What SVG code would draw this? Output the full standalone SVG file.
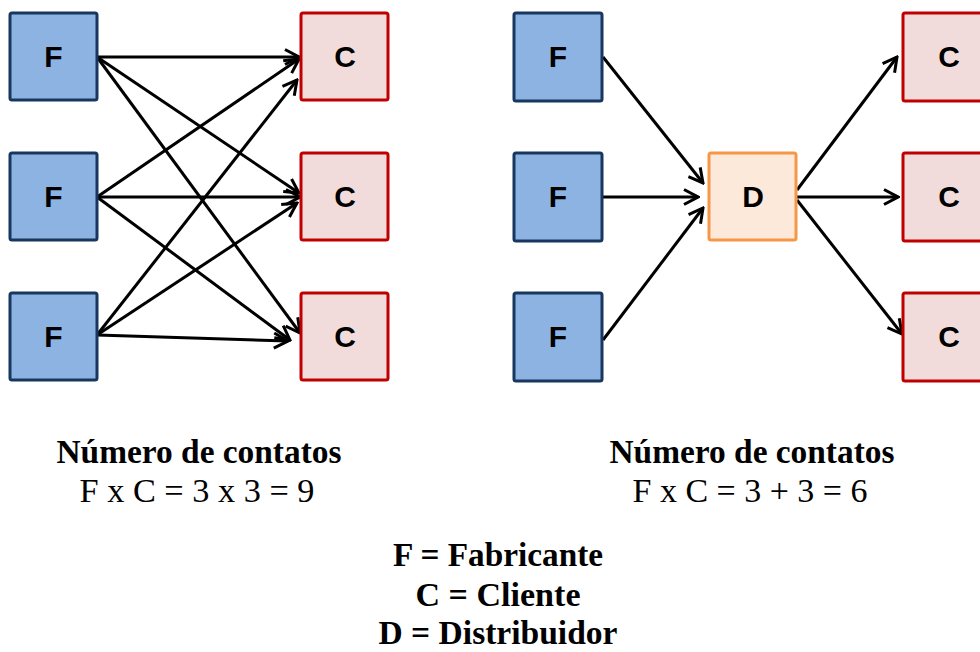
<svg xmlns="http://www.w3.org/2000/svg" width="980" height="652" viewBox="0 0 980 652">
  <style>
    .f { fill: #8DB3E2; stroke: #17375E; stroke-width: 3; }
    .c { fill: #F2DCDB; stroke: #C00000; stroke-width: 3; }
    .d { fill: #FDE9D9; stroke: #F79646; stroke-width: 3; }
    .lbl { font-family: "Liberation Sans", Arial, sans-serif; font-weight: bold; font-size: 30px; fill: #000; text-anchor: middle; }
    .edge { stroke: #000; stroke-width: 3; fill: none; marker-end: url(#arrow); }
    .cap { font-family: "Liberation Serif", "Times New Roman", serif; font-size: 33px; fill: #000; text-anchor: middle; }
    .bold { font-weight: bold; }
  </style>
  <defs>
    <marker id="arrow" viewBox="0 0 18 18" markerWidth="18" markerHeight="18" refX="16" refY="9" orient="auto" markerUnits="userSpaceOnUse">
      <path d="M2,1.5 L16,9 L2,16.5" fill="none" stroke="#000" stroke-width="3" stroke-linejoin="miter"/>
    </marker>
  </defs>
  <rect width="980" height="652" fill="#fff"/>

  <!-- direct network: every maker links to every client -->
  <g id="connectors-direct">
    <line class="edge" x1="97" y1="57" x2="299" y2="57"/>
    <line class="edge" x1="97" y1="57" x2="299" y2="193"/>
    <line class="edge" x1="97" y1="57" x2="300" y2="333"/>
    <line class="edge" x1="97" y1="197" x2="299" y2="59"/>
    <line class="edge" x1="97" y1="197" x2="300" y2="197"/>
    <line class="edge" x1="97" y1="197" x2="290" y2="340"/>
    <line class="edge" x1="97" y1="335" x2="297" y2="80"/>
    <line class="edge" x1="97" y1="335" x2="297" y2="203"/>
    <line class="edge" x1="97" y1="335" x2="288" y2="341"/>
  </g>

  <g id="f1-left"><rect class="f" x="10" y="13" width="87" height="87" rx="2"/><text class="lbl" x="53.5" y="67">F</text></g>
  <g id="f2-left"><rect class="f" x="10" y="153" width="87" height="87" rx="2"/><text class="lbl" x="53.5" y="207">F</text></g>
  <g id="f3-left"><rect class="f" x="10" y="293" width="87" height="87" rx="2"/><text class="lbl" x="53.5" y="347">F</text></g>
  <g id="c1-left"><rect class="c" x="301" y="13" width="87" height="87" rx="2"/><text class="lbl" x="345" y="67">C</text></g>
  <g id="c2-left"><rect class="c" x="301" y="153" width="87" height="87" rx="2"/><text class="lbl" x="345" y="207">C</text></g>
  <g id="c3-left"><rect class="c" x="301" y="293" width="87" height="87" rx="2"/><text class="lbl" x="345" y="347">C</text></g>

  <!-- network through a distributor -->
  <g id="connectors-distributor">
    <line class="edge" x1="603" y1="57" x2="703" y2="183"/>
    <line class="edge" x1="603" y1="197" x2="698" y2="197"/>
    <line class="edge" x1="603" y1="340" x2="703" y2="208"/>
    <line class="edge" x1="797" y1="190" x2="897" y2="57"/>
    <line class="edge" x1="797" y1="197" x2="898" y2="197"/>
    <line class="edge" x1="797" y1="200" x2="902" y2="334"/>
  </g>

  <g id="f1-right"><rect class="f" x="514" y="13" width="88" height="88" rx="2"/><text class="lbl" x="558" y="67">F</text></g>
  <g id="f2-right"><rect class="f" x="514" y="153" width="88" height="88" rx="2"/><text class="lbl" x="558" y="207">F</text></g>
  <g id="f3-right"><rect class="f" x="514" y="293" width="88" height="88" rx="2"/><text class="lbl" x="558" y="347">F</text></g>
  <g id="d-right"><rect class="d" x="709" y="153" width="87" height="87" rx="2"/><text class="lbl" x="753" y="207">D</text></g>
  <g id="c1-right"><rect class="c" x="903" y="13" width="88" height="88" rx="2"/><text class="lbl" x="949" y="67">C</text></g>
  <g id="c2-right"><rect class="c" x="903" y="153" width="88" height="88" rx="2"/><text class="lbl" x="949" y="207">C</text></g>
  <g id="c3-right"><rect class="c" x="903" y="293" width="88" height="88" rx="2"/><text class="lbl" x="949" y="347">C</text></g>

  <!-- captions -->
  <g id="caption-left">
    <text class="cap bold" x="199" y="463" textLength="285" lengthAdjust="spacingAndGlyphs">Número de contatos</text>
    <text class="cap" x="197" y="502" textLength="235" lengthAdjust="spacingAndGlyphs">F x C = 3 x 3 = 9</text>
  </g>
  <g id="caption-right">
    <text class="cap bold" x="752" y="463" textLength="285" lengthAdjust="spacingAndGlyphs">Número de contatos</text>
    <text class="cap" x="750" y="502" textLength="235" lengthAdjust="spacingAndGlyphs">F x C = 3 + 3 = 6</text>
  </g>
  <g id="legend">
    <text class="cap bold" x="498" y="566" textLength="210" lengthAdjust="spacingAndGlyphs">F = Fabricante</text>
    <text class="cap bold" x="498" y="606" textLength="165" lengthAdjust="spacingAndGlyphs">C = Cliente</text>
    <text class="cap bold" x="498" y="644" font-size="32" textLength="239" lengthAdjust="spacingAndGlyphs">D = Distribuidor</text>
  </g>
</svg>
